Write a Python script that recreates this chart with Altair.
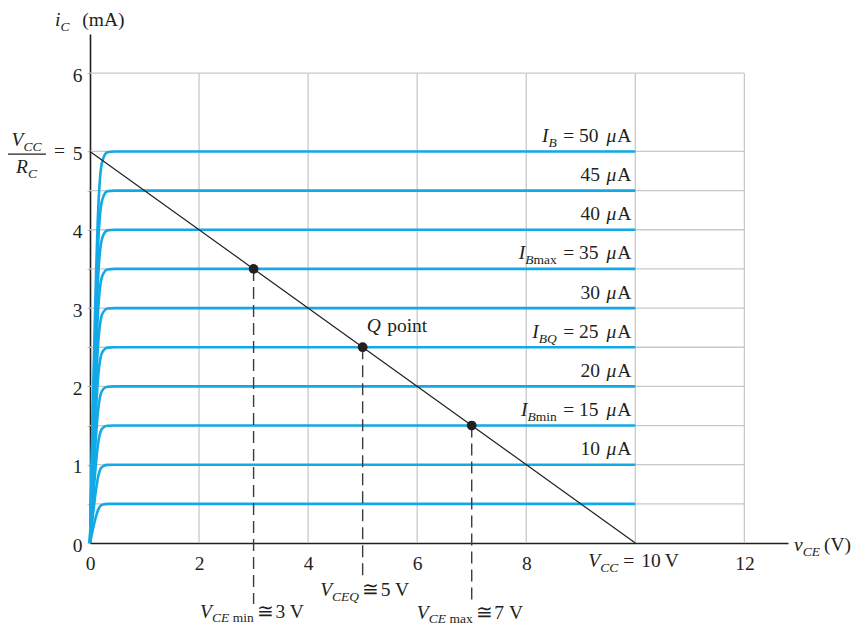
import altair as alt
import pandas as pd

# ---------------- data ----------------
ib_ua = [5, 10, 15, 20, 25, 30, 35, 40, 45, 50]          # base currents (uA)
ic_ma = [0.5, 1.0, 1.5, 2.0, 2.5, 3.0, 3.5, 4.0, 4.5, 5.0]  # collector current plateau (mA)
knee_v = [0.0, 0.16, 0.20, 0.25, 0.32, 0.45, 10.0]        # vCE points of each curve (V)
knee_frac = [0.0, 0.88, 0.955, 0.985, 0.998, 1.0, 1.0]    # fraction of plateau
load_v = [0, 10]
load_i = [5, 0]
q_v = [3, 5, 7]
q_i = [3.5, 2.5, 1.5]
q_drop = [-0.78, -0.46, -0.72]                            # dashed drop ends (mA units, below axis)
x_ticks = [0, 2, 4, 6, 8, 12]
y_ticks = [0, 0.5, 1, 1.5, 2, 2.5, 3, 3.5, 4, 4.5, 5, 6]
hgrid = [0.5, 1, 1.5, 2, 2.5, 3, 3.5, 4, 4.5, 5, 6]
vgrid = [2, 4, 6, 8, 10, 12]

# ---------------- layout / style ----------------
W, H = 698, 509
XMAX, YMAX = 12.8, 6.5
PXX, PXY = W / XMAX, H / YMAX
INK = "#231f20"
GRID = "#c8c8c8"
BLUE = "#12a9e6"
FONT = "Liberation Serif"
FS, FS_SUB = 19.5, 13.5
SUB_DROP = 5

REG = {' ': 0.33, '(': 0.333, ')': 0.333, '=': 0.564, 'A': 0.722, 'V': 0.722,
       'm': 0.778, 'i': 0.278, 'n': 0.5, 'a': 0.444, 'x': 0.5, 'p': 0.5,
       'o': 0.5, 't': 0.278, '≅': 0.6}
ITA = {'V': 0.611, 'C': 0.667, 'E': 0.611, 'Q': 0.722, 'B': 0.611, 'I': 0.333,
       'R': 0.611, 'i': 0.278, 'v': 0.444, 'μ': 0.55}


def adv(ch, italic):
    if ch.isdigit():
        return 0.5
    t = ITA if italic else REG
    return t.get(ch, REG.get(ch, 0.5))


def pw(text, kind):
    if kind == "gap":
        return float(text)
    italic = kind in ("it", "sit")
    size = FS_SUB if kind in ("srm", "sit") else FS
    return sum(adv(c, italic) for c in text) * size


rows = []


def rich(x0, y0, parts, dx=0.0, dy=0.0, align="left", drop_px=SUB_DROP):
    total = sum(pw(t, k) for t, k in parts)
    cur = dx - (total if align == "right" else total / 2 if align == "center" else 0)
    for t, k in parts:
        if k != "gap":
            s = t.strip()
            if s:
                lead = pw(t[: len(t) - len(t.lstrip())], k)
                drop = drop_px if k in ("srm", "sit") else 0
                rows.append(dict(x=x0 + (cur + lead) / PXX, y=y0 - (dy + drop) / PXY, text=s, kind=k))
        cur += pw(t, k)


# curve labels
special = {50: [("I", "it"), ("B", "sit")],
           35: [("I", "it"), ("B", "sit"), ("max", "srm")],
           25: [("I", "it"), ("BQ", "sit")],
           15: [("I", "it"), ("B", "sit"), ("min", "srm")]}
for ib, ic in zip(ib_ua, ic_ma):
    if ib == 5:
        continue
    if ib in special:
        parts = special[ib] + [(f" = {ib} ", "rm"), ("μ", "it"), ("A", "rm")]
    else:
        parts = [(f"{ib} ", "rm"), ("μ", "it"), ("A", "rm")]
    rich(10, ic, parts, dx=-4, dy=-9.5, align="right")

rich(0, YMAX, [("i", "it"), ("C", "sit"), ("  (mA)", "rm")], dx=-35, dy=-7.6)
rich(XMAX, 0, [("v", "it"), ("CE", "sit"), ("4", "gap"), ("(V)", "rm")], dx=6, dy=8)
rich(0, 5, [("V", "it"), ("CC", "sit")], dx=-63.5, dy=-5, align="center")
rich(0, 5, [("R", "it"), ("C", "sit")], dx=-63.5, dy=22, align="center")
rich(0, 5, [("=", "rm")], dx=-36, dy=6)
rich(10, 0, [("V", "it"), ("CC", "sit"), ("5", "gap"), ("=", "rm"), ("7", "gap"),
             ("10", "rm"), ("4", "gap"), ("V", "rm")], dx=-47, dy=24)
rich(3, 0, [("V", "it"), ("CE", "sit"), ("3.5", "gap"), ("min", "srm"), ("3", "gap"),
            ("≅", "rm"), ("7", "gap"), ("3", "rm"), ("4.5", "gap"), ("V", "rm")],
     dx=-53.5, dy=75, drop_px=4)
rich(5, 0, [("V", "it"), ("CEQ", "sit"), ("3", "gap"), ("≅", "rm"), ("7", "gap"),
            ("5", "rm"), ("4.5", "gap"), ("V", "rm")], dx=-42.5, dy=53)
rich(7, 0, [("V", "it"), ("CE", "sit"), ("3.5", "gap"), ("max", "srm"), ("3", "gap"),
            ("≅", "rm"), ("7", "gap"), ("7", "rm"), ("5", "gap"), ("V", "rm")],
     dx=-55, dy=75.5, drop_px=4)
rich(5, 2.5, [("Q", "it"), (" point", "rm")], dx=4, dy=-15)
texts = pd.DataFrame(rows)

# ---------------- encodings ----------------
xscale = alt.Scale(domain=[0, XMAX], nice=False, zero=False)
yscale = alt.Scale(domain=[0, YMAX], nice=False, zero=False)
xaxis = alt.Axis(values=x_ticks, title="", grid=False, ticks=False, tickSize=0,
                 domainColor=INK, domainWidth=1.6, labelFont=FONT, labelFontSize=FS,
                 labelColor=INK, labelPadding=11, labelFlush=False, labelOverlap=False)
yaxis = alt.Axis(values=y_ticks, title="", grid=False, ticks=True, tickSize=3,
                 tickColor=GRID, tickWidth=1.2, domainColor=INK, domainWidth=1.6,
                 labelFont=FONT, labelFontSize=FS, labelColor=INK, labelPadding=5,
                 labelOffset=2, labelFlush=False, labelOverlap=False,
                 labelExpr="datum.value % 1 === 0 ? format(datum.value, 'd') : ''")
X = alt.X("x:Q", scale=xscale, axis=xaxis)
Y = alt.Y("y:Q", scale=yscale, axis=yaxis)

grid_h = alt.Chart(pd.DataFrame({"y": hgrid, "x": [0] * len(hgrid), "x2": [12] * len(hgrid)})).mark_rule(
    color=GRID, strokeWidth=1.3).encode(x=X, x2="x2:Q", y=Y)
grid_v = alt.Chart(pd.DataFrame({"x": vgrid, "y": [0] * len(vgrid), "y2": [6] * len(vgrid)})).mark_rule(
    color=GRID, strokeWidth=1.3).encode(x=X, y=Y, y2="y2:Q")

curve_rows = []
for ib, ic in zip(ib_ua, ic_ma):
    for v, f in zip(knee_v, knee_frac):
        curve_rows.append(dict(ib=ib, x=v, y=ic * f))
curves = alt.Chart(pd.DataFrame(curve_rows)).mark_line(
    color=BLUE, strokeWidth=2.6, interpolate="monotone").encode(x=X, y=Y, detail="ib:N")

load = alt.Chart(pd.DataFrame({"x": load_v, "y": load_i})).mark_line(
    color=INK, strokeWidth=1.2).encode(x=X, y=Y)

drops = alt.Chart(pd.DataFrame({"x": q_v, "y": q_i, "y2": q_drop})).mark_rule(
    color="#3c3c3c", strokeWidth=1.4, strokeDash=[12, 6]).encode(x=X, y=Y, y2="y2:Q")

qpts = alt.Chart(pd.DataFrame({"x": q_v, "y": q_i})).mark_circle(
    size=95, color=INK, opacity=1).encode(x=X, y=Y)

frac = alt.Chart(pd.DataFrame({"x": [-82.7 / PXX], "x2": [-44.0 / PXX], "y": [5 - 2.7 / PXY]})).mark_rule(
    color=INK, strokeWidth=1.2).encode(x=X, x2="x2:Q", y=Y)

styles = {"rm": (FS, "normal"), "it": (FS, "italic"), "srm": (FS_SUB, "normal"), "sit": (FS_SUB, "italic")}
text_layers = []
for k, (size, style) in styles.items():
    sub = texts[texts.kind == k]
    if len(sub) == 0:
        continue
    text_layers.append(
        alt.Chart(sub).mark_text(align="left", baseline="alphabetic", font=FONT, fontSize=size,
                                 fontStyle=style, color=INK).encode(x=X, y=Y, text="text:N"))

chart = alt.layer(grid_h, grid_v, curves, load, drops, qpts, frac, *text_layers).properties(
    width=W, height=H,
    autosize=alt.AutoSizeParams(type="none"),
    padding={"left": 82, "top": 26, "right": 69, "bottom": 84},
    background="white",
).configure_view(strokeWidth=0)

chart.save("out.html", embed_options={"renderer": "svg", "actions": False})
